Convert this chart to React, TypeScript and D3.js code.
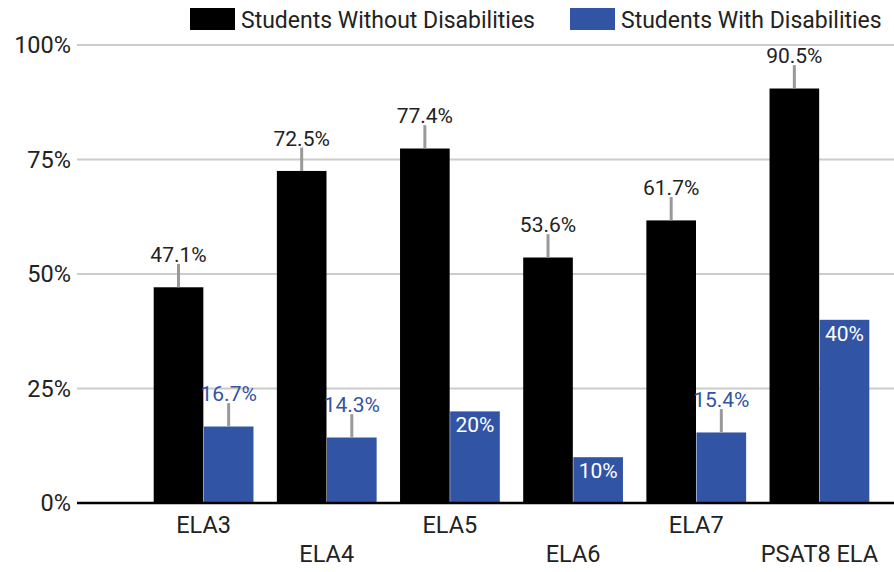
import React from "react";
import * as d3 from "d3";

const categories = ["ELA3", "ELA4", "ELA5", "ELA6", "ELA7", "PSAT8 ELA"];
const withoutValues = [47.1, 72.5, 77.4, 53.6, 61.7, 90.5];
const withValues = [16.7, 14.3, 20, 10, 15.4, 40];
const withoutErr = [5.1, 5.1, 5.1, 5.1, 5.1, 5.1];
const withErr: (number | null)[] = [5.1, 5.1, null, null, 5.1, null];
const yTicks = [0, 25, 50, 75, 100];
const seriesNames = ["Students Without Disabilities", "Students With Disabilities"];

const W = 894;
const H = 572;
const BLACK = "#000000";
const BLUE = "#3254a4";
const FONT = "Roboto, 'Noto Sans', sans-serif";

function fmt(v: number) {
  return `${v}%`;
}

export default function App() {
  const y = d3.scaleLinear().domain([0, 100]).range([503, 45]);
  const x = d3.scaleBand<string>().domain(categories).range([142, 881]).paddingInner(0.19).paddingOuter(0.095);
  const inner = d3.scaleBand<string>().domain(["without", "with"]).range([0, x.bandwidth()]).paddingInner(0.01);
  const bw = inner.bandwidth();

  return (
    <svg width={W} height={H} style={{ position: "absolute", left: 0, top: 0, background: "#fff" }} fontFamily={FONT}>
      {yTicks.filter((t) => t !== 0).map((t) => (
        <line key={t} x1={77} x2={894} y1={y(t)} y2={y(t)} stroke="#cccccc" strokeWidth={2} />
      ))}
      {yTicks.map((t) => (
        <text key={"l" + t} x={71} y={y(t)} dy="0.36em" textAnchor="end" fontSize={23.5} fill="#222">
          {fmt(t)}
        </text>
      ))}

      {categories.map((c, i) => {
        const gx = x(c)!;
        const bx0 = gx + inner("without")!;
        const bx1 = gx + inner("with")!;
        const v0 = withoutValues[i];
        const v1 = withValues[i];
        const e0 = withoutErr[i];
        const e1 = withErr[i];
        return (
          <g key={c}>
            <rect x={bx0} y={y(v0)} width={bw} height={y(0) - y(v0)} fill={BLACK} />
            <rect x={bx1} y={y(v1)} width={bw} height={y(0) - y(v1)} fill={BLUE} />
            <line x1={bx0 + bw / 2} x2={bx0 + bw / 2} y1={y(v0)} y2={y(v0 + e0)} stroke="#999" strokeWidth={3} />
            <text x={bx0 + bw / 2} y={y(v0 + e0) - 2} textAnchor="middle" fontSize={21} fill="#222">
              {fmt(v0)}
            </text>
            {e1 !== null ? (
              <>
                <line x1={bx1 + bw / 2} x2={bx1 + bw / 2} y1={y(v1)} y2={y(v1 + e1)} stroke="#999" strokeWidth={3} />
                <text x={bx1 + bw / 2} y={y(v1 + e1) - 2} textAnchor="middle" fontSize={21} fill={BLUE}>
                  {fmt(v1)}
                </text>
              </>
            ) : (
              <text x={bx1 + bw / 2} y={y(v1) + 21} textAnchor="middle" fontSize={21} fill="#fff">
                {fmt(v1)}
              </text>
            )}
            <text x={gx + x.bandwidth() / 2} y={i % 2 === 0 ? 533 : 562} textAnchor="middle" fontSize={23.5} fill="#222">
              {c}
            </text>
          </g>
        );
      })}

      <line x1={77} x2={894} y1={y(0)} y2={y(0)} stroke="#000" strokeWidth={2.5} />

      <rect x={190} y={8} width={45} height={22} fill={BLACK} />
      <text x={241} y={28} fontSize={23} fill="#222">{seriesNames[0]}</text>
      <rect x={570} y={8} width={45} height={22} fill={BLUE} />
      <text x={621} y={28} fontSize={23} fill="#222">{seriesNames[1]}</text>
    </svg>
  );
}
